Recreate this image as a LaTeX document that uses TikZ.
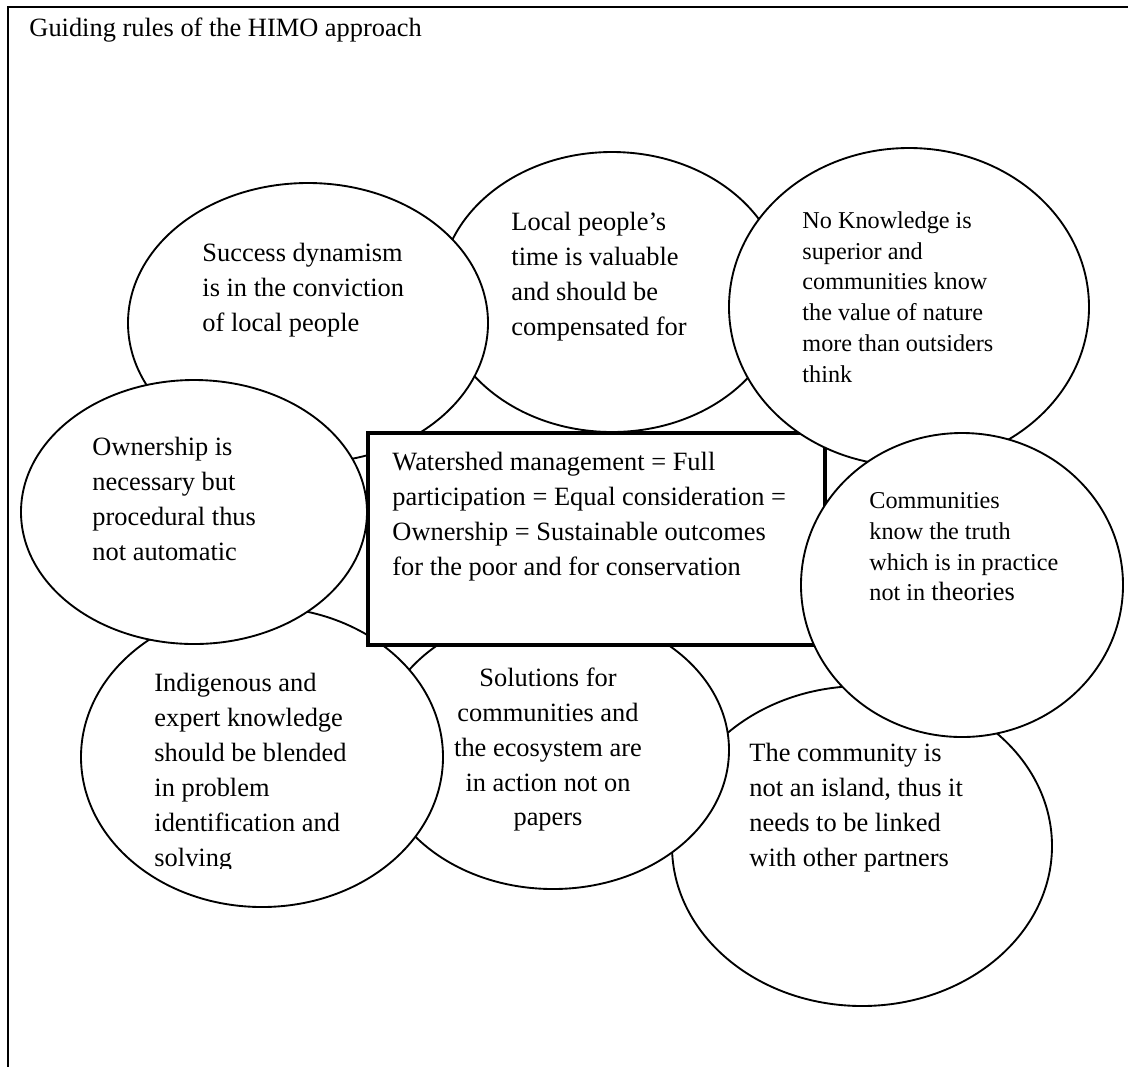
\documentclass[tikz,border=0pt]{standalone}
\usepackage{fontspec}
\setmainfont{Liberation Serif}
\usetikzlibrary{shapes.geometric}
\newcommand{\px}{0.4545pt}

\begin{document}
\begin{tikzpicture}[x=\px,y=-\px,
  bubble/.style 2 args={ellipse,draw,fill=white,line width=0.85pt,minimum width=#1*\px,minimum height=#2*\px,inner sep=0pt},
  txt/.style={anchor=north west,inner sep=0pt,align=left,font=\fontsize{12}{15.9}\selectfont},
  smalltxt/.style={txt,font=\fontsize{11}{14}\selectfont}]
\useasboundingbox (0,0) rectangle (1128,1066);
% outer frame, open to the right and below
\draw[line width=1.1pt] (1130,7) -- (8,7) -- (8,1070);
\node[anchor=base west,inner sep=0pt,font=\fontsize{12}{15.9}\selectfont] (title) at (29,36) {Guiding rules of the HIMO approach};
% upper row
\node[bubble={344}{280}] (local) at (612,292) {};
\node[txt] (localtxt) at (511,212) {Local people's\\time is valuable\\and should be\\compensated for};
\node[bubble={360}{280}] (success) at (308,323) {};
\node[txt] (successtxt) at (202,243) {Success dynamism\\is in the conviction\\of local people};
% lower row
\node[bubble={380}{320}] (community) at (862,846) {};
\node[txt] (communitytxt) at (749,743) {The community is\\not an island, thus it\\needs to be linked\\with other partners};
\node[bubble={352}{278}] (solutions) at (553,750) {};
\node[txt,anchor=north,align=center] (solutionstxt) at (548,667) {Solutions for\\communities and\\the ecosystem are\\in action not on\\papers};
\node[bubble={362}{300}] (indigenous) at (262,757) {};
\begin{scope}
  % text box cuts the last line
  \clip (140,660) rectangle (440,868);
  \node[txt] (indigenoustxt) at (154,673) {Indigenous and\\expert knowledge\\should be blended\\in problem\\identification and\\solving};
\end{scope}
\node[bubble={346}{264}] (ownership) at (194,512) {};
\node[txt] (ownershiptxt) at (92,437) {Ownership is\\necessary but\\procedural thus\\not automatic};
% central statement
\node[draw,fill=white,line width=1.8pt,minimum width=457*\px,minimum height=212*\px,inner sep=0pt] (core) at (596.5,539) {};
\node[txt] (coretxt) at (392,452) {Watershed management = Full\\participation = Equal consideration =\\Ownership = Sustainable outcomes\\for the poor and for conservation};
% right side, smaller type
\node[bubble={360}{318}] (noknow) at (909,307) {};
\node[smalltxt] (noknowtxt) at (802,211) {No Knowledge is\\superior and\\communities know\\the value of nature\\more than outsiders\\think};
\node[bubble={322}{304}] (truth) at (962,585) {};
\node[smalltxt] (truthtxt) at (869,492) {Communities\\know the truth\\which is in practice\\not in {\fontsize{12}{14}\selectfont theories}};
\end{tikzpicture}
\end{document}
